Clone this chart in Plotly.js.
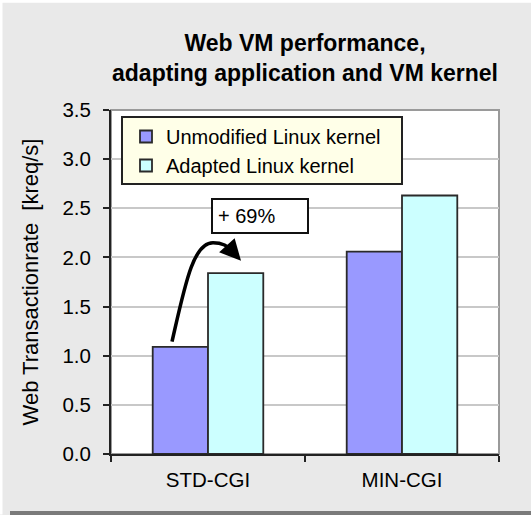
<!DOCTYPE html>
<html>
<head>
<meta charset="utf-8">
<script src="https://cdn.plot.ly/plotly-3.0.1.min.js"></script>
<style>
  html, body { margin: 0; padding: 0; background: #e9e9e9; }
</style>
</head>
<body>
<div id="chartDiv" style="width:531px;height:515px;"></div>
<script>
const categories = ['STD-CGI', 'MIN-CGI'];
const unmodifiedValues = [1.09, 2.06];
const adaptedValues = [1.84, 2.63];
const yTicks = [0, 0.5, 1, 1.5, 2, 2.5, 3, 3.5];

const fontFamily = 'Liberation Sans, Arial, sans-serif';

// plot area in pixels, used to place the legend box and the arrow annotation
const plotLeft = 111, plotRight = 499, plotTop = 110, plotBottom = 454.5;
const px = x => (x - plotLeft) / (plotRight - plotLeft);
const py = y => (plotBottom - y) / (plotBottom - plotTop);

const unmodifiedTrace = {
    x: categories,
    y: unmodifiedValues,
    name: 'Unmodified Linux kernel',
    type: 'bar',
    marker: {color: '#9999ff', line: {color: '#2a2a2a', width: 1.8}},
    hoverinfo: 'none'
};

const adaptedTrace = {
    x: categories,
    y: adaptedValues,
    name: 'Adapted Linux kernel',
    type: 'bar',
    marker: {color: '#ccffff', line: {color: '#2a2a2a', width: 1.8}},
    hoverinfo: 'none'
};

const arrowPath = 'M ' + px(172) + ',' + py(342) +
    ' C ' + px(185) + ',' + py(285) + ' ' + px(193) + ',' + py(243) + ' ' + px(213) + ',' + py(243) +
    ' Q ' + px(226) + ',' + py(243) + ' ' + px(233) + ',' + py(252);

const layout = {
    width: 531,
    height: 515,
    margin: {l: plotLeft, r: 531 - plotRight, t: plotTop, b: 515 - plotBottom},
    paper_bgcolor: '#e9e9e9',
    plot_bgcolor: '#ffffff',
    font: {family: fontFamily, size: 20, color: '#000000'},
    title: {
        text: '<b>Web VM performance,<br>adapting application and VM kernel</b>',
        font: {family: fontFamily, size: 23, color: '#000000'},
        xref: 'paper',
        x: 0.5,
        xanchor: 'center',
        y: 1 - 51 / 515,
        yanchor: 'middle'
    },
    barmode: 'group',
    bargap: 0.43,
    bargroupgap: 0,
    showlegend: true,
    legend: {
        x: px(126),
        y: py(117),
        xanchor: 'left',
        yanchor: 'top',
        bgcolor: 'rgba(0,0,0,0)',
        borderwidth: 0,
        font: {family: fontFamily, size: 20, color: '#000000'},
        traceorder: 'normal',
        itemwidth: 30
    },
    xaxis: {
        type: 'category',
        showline: true,
        linecolor: '#222222',
        linewidth: 2,
        ticks: 'outside',
        tickson: 'boundaries',
        ticklen: 6,
        tickwidth: 2,
        tickcolor: '#222222',
        showgrid: false,
        ticklabelstandoff: 6,
        tickfont: {family: fontFamily, size: 20.5, color: '#000000'},
        fixedrange: true
    },
    yaxis: {
        range: [0, 3.5],
        tickvals: yTicks,
        ticktext: yTicks.map(v => v.toFixed(1)),
        showline: true,
        linecolor: '#222222',
        linewidth: 2,
        ticks: 'outside',
        ticklen: 6,
        tickwidth: 2,
        tickcolor: '#222222',
        ticklabelstandoff: 8,
        showgrid: true,
        gridcolor: '#c8c8c8',
        gridwidth: 2,
        zeroline: false,
        tickfont: {family: fontFamily, size: 20.5, color: '#000000'},
        title: {
            text: 'Web Transactionrate  [kreq/s]',
            font: {family: fontFamily, size: 22, color: '#000000'},
            standoff: 18
        },
        fixedrange: true
    },
    shapes: [
        // top and right border of the plot area
        {type: 'rect', xref: 'paper', yref: 'paper', x0: 0, x1: 1, y0: 0, y1: 1,
         line: {color: '#9a9a9a', width: 2}, layer: 'below'},
        // legend box
        {type: 'rect', xref: 'paper', yref: 'paper', x0: px(122), x1: px(402), y0: py(117), y1: py(184),
         fillcolor: '#ffffe8', line: {color: '#222222', width: 2}, layer: 'above'},
        // curved arrow
        {type: 'path', xref: 'paper', yref: 'paper', path: arrowPath,
         line: {color: '#000000', width: 3.5}},
        // outer frame edges
        {type: 'line', xref: 'paper', yref: 'paper', x0: px(10), x1: px(531), y0: py(513.5), y1: py(513.5),
         line: {color: '#7a7a7a', width: 4}},
        {type: 'line', xref: 'paper', yref: 'paper', x0: px(0), x1: px(531), y0: py(1), y1: py(1),
         line: {color: '#ffffff', width: 3}},
        {type: 'line', xref: 'paper', yref: 'paper', x0: px(1), x1: px(1), y0: py(0), y1: py(515),
         line: {color: '#ffffff', width: 3}}
    ],
    annotations: [
        {
            xref: 'paper', yref: 'paper',
            x: px(260), y: py(216.5),
            xanchor: 'center', yanchor: 'middle',
            text: '+ 69%',
            showarrow: false,
            font: {family: fontFamily, size: 20, color: '#000000'},
            bgcolor: '#ffffff',
            bordercolor: '#111111',
            borderwidth: 2,
            borderpad: 5,
            width: 84,
            align: 'left'
        },
        {
            xref: 'paper', yref: 'paper',
            x: px(241), y: py(261),
            ax: -10, ay: -11,
            text: '',
            showarrow: true,
            arrowhead: 2,
            arrowsize: 1.2,
            arrowwidth: 3.5,
            arrowcolor: '#000000'
        }
    ]
};

Plotly.newPlot('chartDiv', [unmodifiedTrace, adaptedTrace], layout, {staticPlot: true, displayModeBar: false});
</script>
</body>
</html>
